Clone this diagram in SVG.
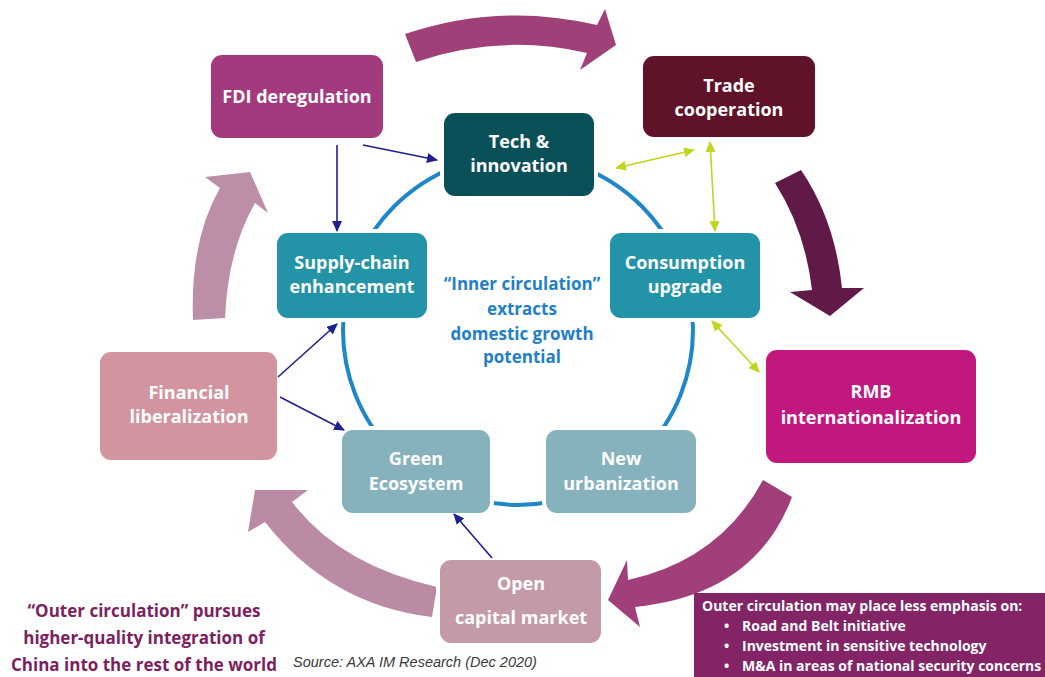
<svg xmlns="http://www.w3.org/2000/svg" width="1045" height="677" viewBox="0 0 1045 677">
<style>
.bt{font-family:"Open Sans","Noto Sans",sans-serif;font-weight:bold;font-size:18px;fill:#fff;text-anchor:middle}
.ct{font-family:"Open Sans","Noto Sans",sans-serif;font-weight:bold;font-size:17px;fill:#1F7FC8;text-anchor:middle}
.ot{font-family:"Open Sans","Noto Sans",sans-serif;font-weight:bold;font-size:17px;fill:#7D1F5E;text-anchor:middle}
.nt{font-family:"Open Sans","Noto Sans",sans-serif;font-weight:bold;font-size:14px;fill:#fff}
.src{font-family:"Liberation Sans",Arial,sans-serif;font-style:italic;font-size:14.5px;fill:#3a3a3a}
.box{stroke:#fff;stroke-width:8;paint-order:stroke}
.bl{stroke:#1F1F8F;stroke-width:1.6;fill:none;marker-end:url(#ab)}
.yl{stroke:#C3D41C;stroke-width:1.6;fill:none;marker-end:url(#ay);marker-start:url(#ay)}
</style>
<defs>
<marker id="ab" markerUnits="userSpaceOnUse" markerWidth="11" markerHeight="10" refX="10" refY="5" orient="auto"><path d="M0,0 L11,5 L0,10 Z" fill="#1F1F8F"/></marker>
<marker id="ay" markerUnits="userSpaceOnUse" markerWidth="11" markerHeight="10" refX="10" refY="5" orient="auto-start-reverse"><path d="M0,0 L11,5 L0,10 Z" fill="#C3D41C"/></marker>
</defs>
<rect width="1045" height="677" fill="#fff"/>
<g id="big-arrows">
<path d="M405,34 Q500,2 597,25 L605,9 L616,45 L580,70 L587,53 Q500,33 416,62 Z" fill="#A04079"/>
<path d="M775,183 Q805,230 812,290 L790,292 L830,316 L864,288 L842,288 Q835,220 801,170 Z" fill="#611A48"/>
<path d="M763,480 Q720,560 628,580 L627,560 L608,600 L640,627 L635,607 Q755,595 792,497 Z" fill="#A03F79"/>
<path d="M437,587 Q340,565 292,502 L308,490 L255,490 L248,532 L265,522 Q330,605 432,617 Z" fill="#BB8BA6"/>
<path d="M193,320 Q190,240 220,188 L205,177 L250,172 L268,213 L255,203 Q228,250 225,318 Z" fill="#BD8EA8"/>
</g>
<circle id="inner-circle" cx="518" cy="330" r="175" fill="none" stroke="#1D87C9" stroke-width="4"/>
<g id="fdi"><rect class="box" x="211" y="55" width="172" height="83" rx="11" fill="#A33A7D"/><text class="bt" x="297" y="103">FDI deregulation</text></g>
<g id="trade"><rect class="box" x="643" y="56" width="172" height="81" rx="11" fill="#5F1228"/><text class="bt" x="729" y="92">Trade</text><text class="bt" x="729" y="116">cooperation</text></g>
<g id="tech"><rect class="box" x="444" y="113" width="150" height="83" rx="11" fill="#0A5058"/><text class="bt" x="519" y="148">Tech &amp;</text><text class="bt" x="519" y="172">innovation</text></g>
<g id="supply"><rect class="box" x="277" y="233" width="150" height="85" rx="11" fill="#2394A8"/><text class="bt" x="352" y="269">Supply-chain</text><text class="bt" x="352" y="293">enhancement</text></g>
<g id="consumption"><rect class="box" x="610" y="233" width="150" height="85" rx="11" fill="#2394A8"/><text class="bt" x="685" y="269">Consumption</text><text class="bt" x="685" y="293">upgrade</text></g>
<g id="financial"><rect class="box" x="100" y="352" width="177" height="108" rx="11" fill="#D2949F"/><text class="bt" x="189" y="399">Financial</text><text class="bt" x="189" y="423">liberalization</text></g>
<g id="rmb"><rect class="box" x="766" y="350" width="210" height="113" rx="11" fill="#C2177F"/><text class="bt" x="871" y="398">RMB</text><text class="bt" x="871" y="424">internationalization</text></g>
<g id="green"><rect class="box" x="342" y="430" width="148" height="83" rx="11" fill="#86B2BE"/><text class="bt" x="416" y="465">Green</text><text class="bt" x="416" y="490">Ecosystem</text></g>
<g id="urban"><rect class="box" x="546" y="430" width="150" height="83" rx="11" fill="#86B2BE"/><text class="bt" x="621" y="465">New</text><text class="bt" x="621" y="490">urbanization</text></g>
<g id="open"><rect class="box" x="440" y="560" width="161" height="83" rx="11" fill="#C59AA8"/><text class="bt" x="521" y="590">Open</text><text class="bt" x="521" y="624">capital market</text></g>
<g id="connectors">
<line class="bl" x1="337" y1="145" x2="337" y2="231"/>
<line class="bl" x1="363" y1="145" x2="437" y2="160"/>
<line class="bl" x1="278" y1="377" x2="337" y2="324"/>
<line class="bl" x1="280" y1="397" x2="344" y2="430"/>
<line class="bl" x1="492" y1="558" x2="454" y2="514"/>
<line class="yl" x1="616" y1="168" x2="694" y2="150"/>
<line class="yl" x1="710" y1="142" x2="715" y2="231"/>
<line class="yl" x1="712" y1="321" x2="759" y2="372"/>
</g>
<g id="inner-label">
<text class="ct" x="522" y="290">“Inner circulation”</text>
<text class="ct" x="522" y="315">extracts</text>
<text class="ct" x="522" y="340">domestic growth</text>
<text class="ct" x="522" y="363">potential</text>
</g>
<g id="outer-label">
<text class="ot" x="144" y="617">“Outer circulation” pursues</text>
<text class="ot" x="144" y="644">higher-quality integration of</text>
<text class="ot" x="144" y="671">China into the rest of the world</text>
</g>
<text class="src" x="293" y="667">Source: AXA IM Research (Dec 2020)</text>
<g id="note">
<rect x="694" y="593" width="351" height="84" fill="#832466"/>
<text class="nt" x="702" y="611">Outer circulation may place less emphasis on:</text>
<text class="nt" x="724" y="631">•</text><text class="nt" x="742" y="631">Road and Belt initiative</text>
<text class="nt" x="724" y="651">•</text><text class="nt" x="742" y="651">Investment in sensitive technology</text>
<text class="nt" x="724" y="671">•</text><text class="nt" x="742" y="671">M&amp;A in areas of national security concerns</text>
</g>
</svg>
